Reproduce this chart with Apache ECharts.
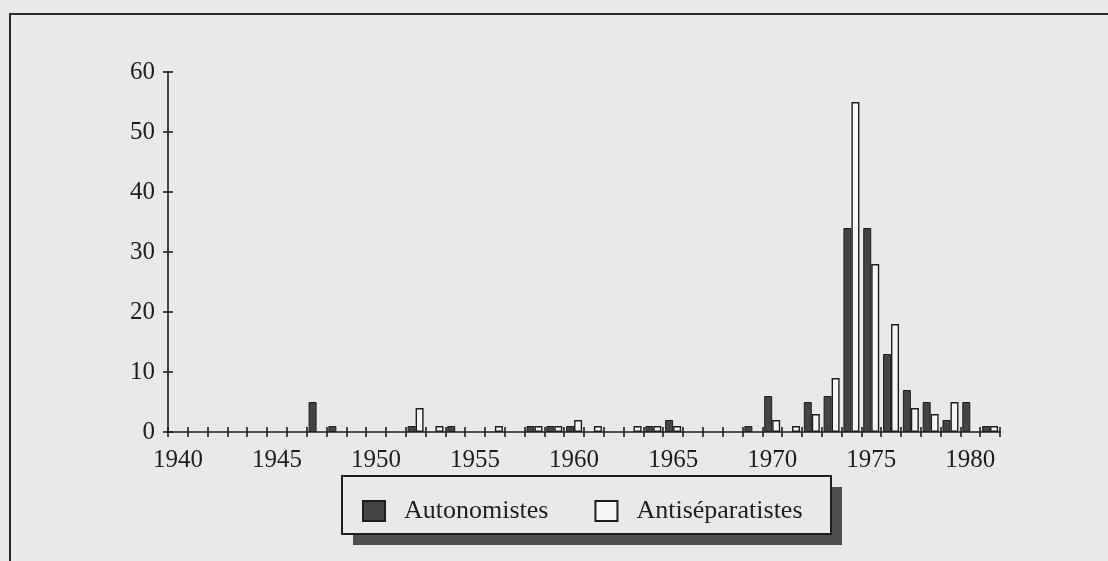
<!DOCTYPE html>
<html>
<head>
<meta charset="utf-8">
<script src="https://cdn.jsdelivr.net/npm/echarts@6/dist/echarts.min.js"></script>
<style>
  html, body { margin: 0; padding: 0; background: #e9e9e7; }
  #chart { width: 1108px; height: 561px; }
</style>
</head>
<body>
<div id="chart"></div>
<script>
// années (catégories)
const years = ['1940', '1941', '1942', '1943', '1944', '1945', '1946', '1947', '1948', '1949',
  '1950', '1951', '1952', '1953', '1954', '1955', '1956', '1957', '1958', '1959',
  '1960', '1961', '1962', '1963', '1964', '1965', '1966', '1967', '1968', '1969',
  '1970', '1971', '1972', '1973', '1974', '1975', '1976', '1977', '1978', '1979',
  '1980', '1981'];
const autonomistes = [0, 0, 0, 0, 0, 0, 0, 5, 1, 0,
  0, 0, 1, 0, 1, 0, 0, 0, 1, 1,
  1, 0, 0, 0, 1, 2, 0, 0, 0, 1,
  6, 0, 5, 6, 34, 34, 13, 7, 5, 2,
  5, 1];
const antiseparatistes = [0, 0, 0, 0, 0, 0, 0, 0, 0, 0,
  0, 0, 4, 1, 0, 0, 1, 0, 1, 1,
  2, 1, 0, 1, 1, 1, 0, 0, 0, 0,
  2, 1, 3, 9, 55, 28, 18, 4, 3, 5,
  0, 1];
const yTicks = { min: 0, max: 60, interval: 10 };

const ink = '#1e1e1e';
const paper = '#e9e9e7';
const font = 'Liberation Serif';
const tickStyle = { color: ink, width: 1.6 };

// les années sans événement ne dessinent rien
const noZero = (arr) => arr.map((v) => (v === 0 ? '-' : v));

const chart = echarts.init(document.getElementById('chart'));
const option = {
  backgroundColor: paper,
  animation: false,
  textStyle: { fontFamily: font, color: ink },
  grid: { left: 168, right: 108, top: 72, bottom: 129 },
  xAxis: [
    {
      type: 'category',
      data: years,
      boundaryGap: true,
      axisLine: { show: true, lineStyle: tickStyle },
      axisTick: { show: true, interval: 0, length: 5, lineStyle: tickStyle },
      axisLabel: {
        interval: (i) => i % 5 === 0,
        fontFamily: font, fontSize: 25, color: ink, margin: 16
      },
      splitLine: { show: false }
    },
    {
      // graduations vers l'intérieur : elles traversent l'axe
      type: 'category',
      data: years,
      position: 'bottom',
      boundaryGap: true,
      axisLine: { show: false },
      axisTick: { show: true, inside: true, interval: 0, length: 5, lineStyle: tickStyle },
      axisLabel: { show: false },
      splitLine: { show: false }
    }
  ],
  yAxis: [
    {
      type: 'value',
      min: yTicks.min, max: yTicks.max, interval: yTicks.interval,
      axisLine: { show: true, lineStyle: tickStyle },
      axisTick: { show: true, length: 5, lineStyle: tickStyle },
      axisLabel: { fontFamily: font, fontSize: 25, color: ink, margin: 13 },
      splitLine: { show: false }
    },
    {
      type: 'value',
      position: 'left',
      min: yTicks.min, max: yTicks.max, interval: yTicks.interval,
      axisLine: { show: false },
      axisTick: { show: true, inside: true, length: 5, lineStyle: tickStyle },
      axisLabel: { show: false },
      splitLine: { show: false }
    }
  ],
  legend: {
    left: 357, top: 493,
    itemWidth: 22, itemHeight: 20, itemGap: 46,
    icon: 'rect',
    textStyle: { fontFamily: font, fontSize: 26, color: ink, padding: [0, 0, 0, 14] },
    data: ['Autonomistes', 'Antiséparatistes']
  },
  graphic: [
    // cadre de la figure
    { type: 'polyline', z: 0, shape: { points: [[10, 561], [10, 14], [1108, 14]] },
      style: { fill: null, stroke: '#2a2a2a', lineWidth: 2 } },
    // ombre de la légende
    { type: 'rect', z: 1, shape: { x: 353, y: 487, width: 489, height: 58 },
      style: { fill: '#4e4e4e' } },
    { type: 'rect', z: 2, shape: { x: 342, y: 476, width: 489, height: 58 },
      style: { fill: paper, stroke: ink, lineWidth: 2 } }
  ],
  series: [
    {
      name: 'Autonomistes',
      type: 'bar',
      data: noZero(autonomistes),
      barWidth: 8,
      barGap: '0%',
      itemStyle: { color: '#444444', borderColor: ink, borderWidth: 1 }
    },
    {
      name: 'Antiséparatistes',
      type: 'bar',
      data: noZero(antiseparatistes),
      barWidth: 8,
      barGap: '0%',
      itemStyle: { color: '#f6f6f4', borderColor: ink, borderWidth: 1.4 }
    }
  ]
};
chart.setOption(option);
</script>
</body>
</html>
